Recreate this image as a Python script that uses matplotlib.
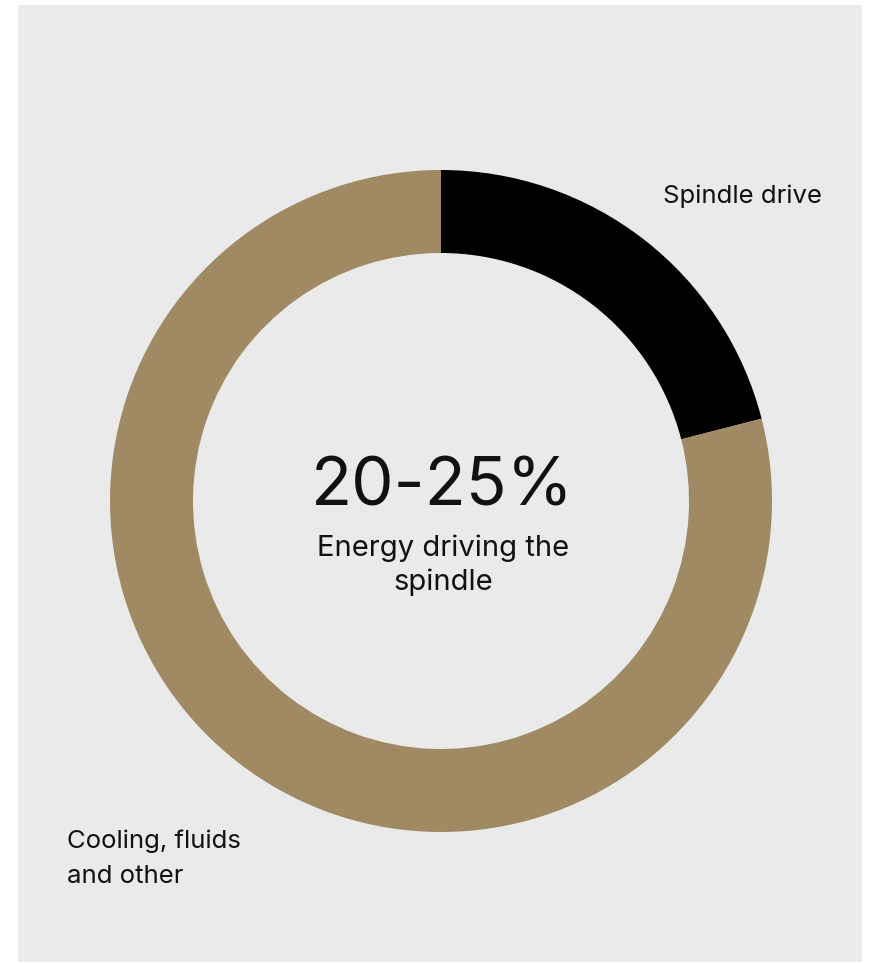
import matplotlib
matplotlib.use("Agg")
import matplotlib.pyplot as plt
from matplotlib.patches import Rectangle

plt.rcParams['font.family'] = ['Inter', 'DejaVu Sans']

# Energy share of a machine tool
categories = ["Spindle drive", "Cooling, fluids\nand other"]
shares = [21, 79]
colors = ["#000000", "#A08A64"]
headline = "20-25%"
subtitle = ["Energy driving the", "spindle"]

W, H = 870, 963
fig = plt.figure(figsize=(W / 100, H / 100), dpi=100, facecolor="white")

def fx(px):
    return px / W

def fy(py):
    return 1 - py / H

# light grey panel behind everything
fig.patches.append(Rectangle((fx(18), fy(962)), fx(862) - fx(18), fy(5) - fy(962),
                             transform=fig.transFigure, facecolor="#EAEAEA",
                             edgecolor="none", zorder=-5))

cx, cy, r = 441, 501, 331
ax = fig.add_axes([fx(cx - r), fy(cy + r), 2 * r / W, 2 * r / H])
ax.set_zorder(2)
ax.set_axis_off()
ax.pie(shares, colors=colors, startangle=90, counterclock=False, radius=1,
       wedgeprops=dict(width=83 / 331, edgecolor="none", linewidth=0))
ax.set_xlim(-1, 1)
ax.set_ylim(-1, 1)

txt = "#111111"
fig.text(fx(442), fy(505), headline, ha="center", va="baseline",
         fontsize=48.5, color=txt, zorder=5)
fig.text(fx(443), fy(556), subtitle[0], ha="center", va="baseline",
         fontsize=21, color=txt, zorder=5)
fig.text(fx(443), fy(590), subtitle[1], ha="center", va="baseline",
         fontsize=21, color=txt, zorder=5)

fig.text(fx(663), fy(203), categories[0], ha="left", va="baseline",
         fontsize=18.5, color=txt, zorder=5)
lines = categories[1].split("\n")
fig.text(fx(67), fy(848), lines[0], ha="left", va="baseline",
         fontsize=18.5, color=txt, zorder=5)
fig.text(fx(67), fy(883), lines[1], ha="left", va="baseline",
         fontsize=18.5, color=txt, zorder=5)

fig.savefig("out.png", dpi=100, facecolor="white")
